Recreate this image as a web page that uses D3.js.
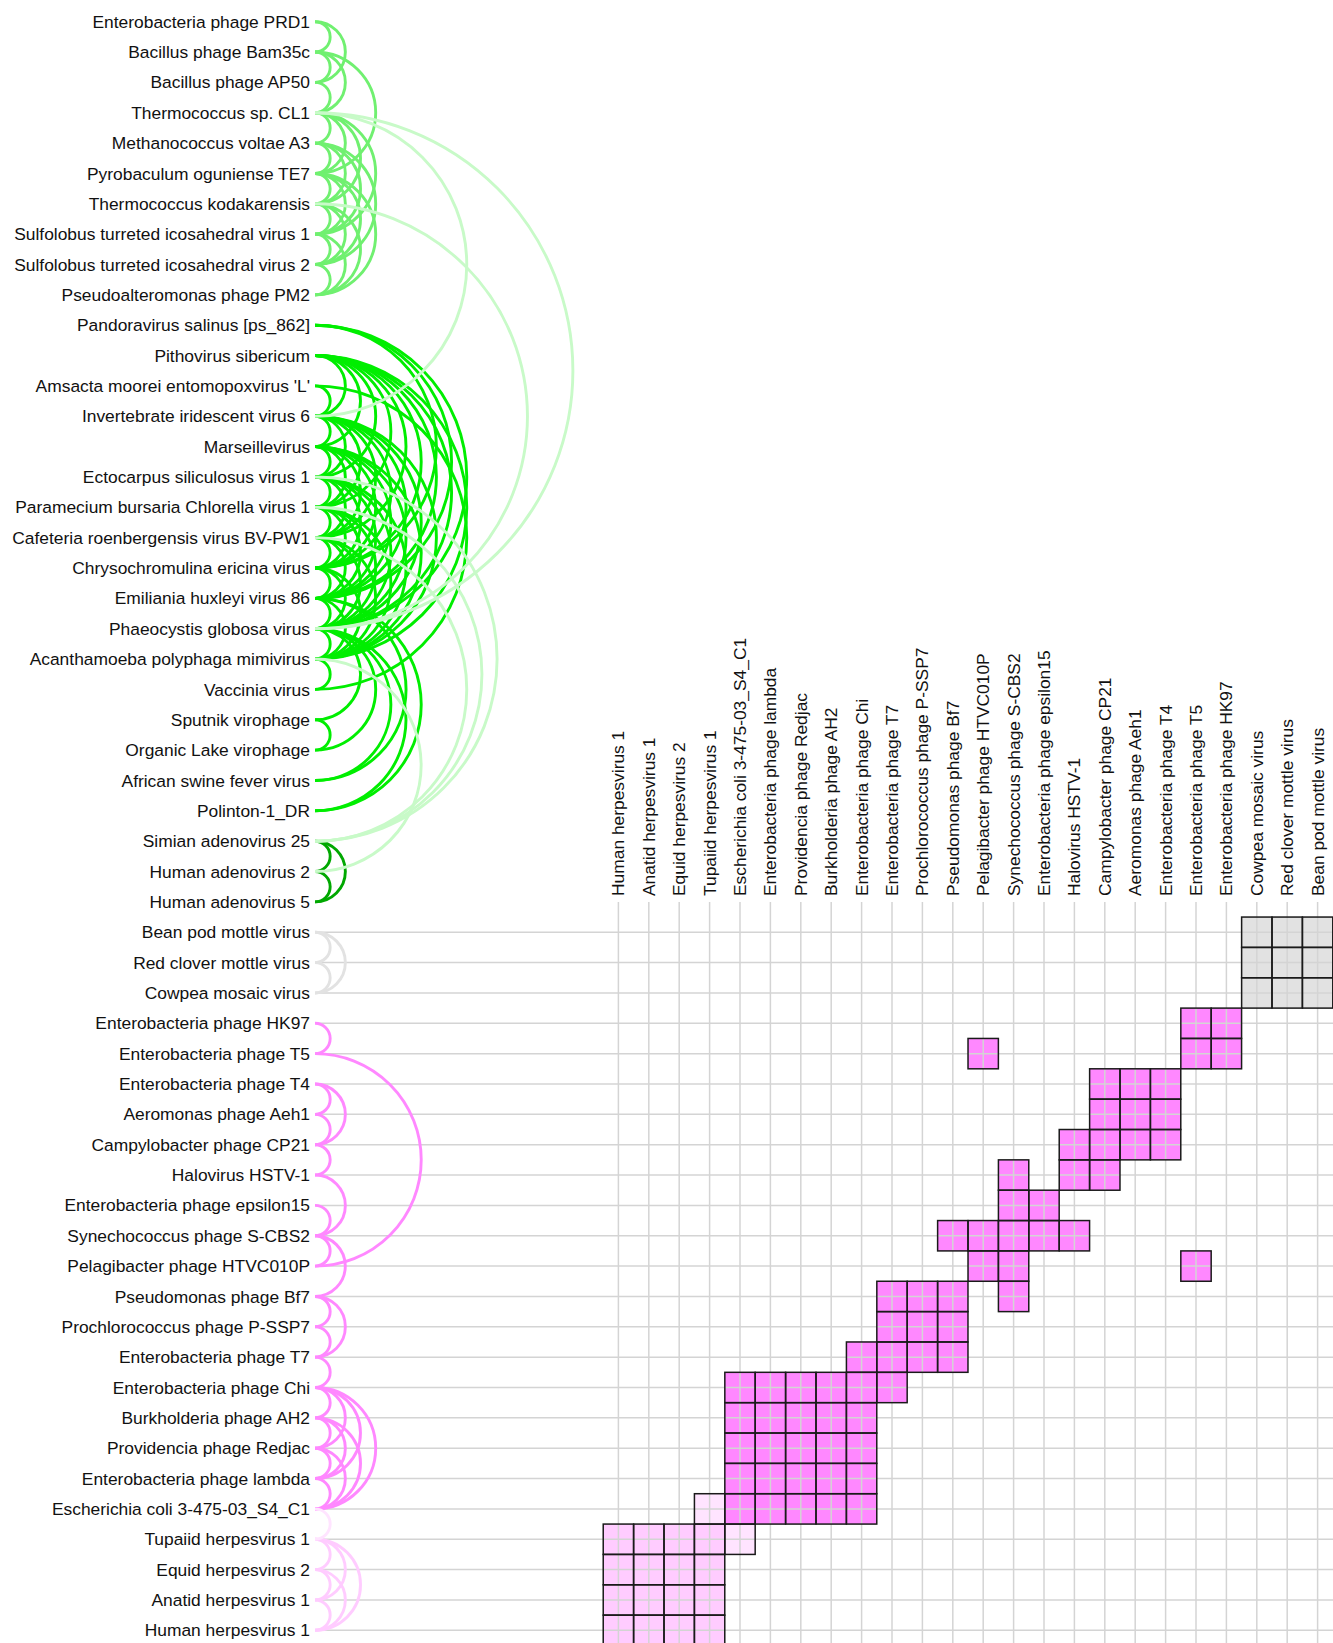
<!DOCTYPE html>
<html>
<head>
<meta charset="utf-8">
<script src="https://cdn.jsdelivr.net/npm/d3@7"></script>
<style>
  body { margin: 0; background: #fff; }
  text { font-family: "Liberation Sans", Arial, sans-serif; font-size: 17.4px; fill: #111; }
</style>
</head>
<body>
<script>
// page size
var width = 1333,
    height = 1643;

// row labels, top to bottom
var rowNames = [
  "Enterobacteria phage PRD1", "Bacillus phage Bam35c", "Bacillus phage AP50", "Thermococcus sp. CL1",
  "Methanococcus voltae A3", "Pyrobaculum oguniense TE7", "Thermococcus kodakarensis",
  "Sulfolobus turreted icosahedral virus 1", "Sulfolobus turreted icosahedral virus 2", "Pseudoalteromonas phage PM2",
  "Pandoravirus salinus [ps_862]", "Pithovirus sibericum", "Amsacta moorei entomopoxvirus 'L'",
  "Invertebrate iridescent virus 6", "Marseillevirus", "Ectocarpus siliculosus virus 1",
  "Paramecium bursaria Chlorella virus 1", "Cafeteria roenbergensis virus BV-PW1", "Chrysochromulina ericina virus",
  "Emiliania huxleyi virus 86", "Phaeocystis globosa virus", "Acanthamoeba polyphaga mimivirus", "Vaccinia virus",
  "Sputnik virophage", "Organic Lake virophage", "African swine fever virus", "Polinton-1_DR",
  "Simian adenovirus 25", "Human adenovirus 2", "Human adenovirus 5",
  "Bean pod mottle virus", "Red clover mottle virus", "Cowpea mosaic virus",
  "Enterobacteria phage HK97", "Enterobacteria phage T5", "Enterobacteria phage T4", "Aeromonas phage Aeh1",
  "Campylobacter phage CP21", "Halovirus HSTV-1", "Enterobacteria phage epsilon15", "Synechococcus phage S-CBS2",
  "Pelagibacter phage HTVC010P", "Pseudomonas phage Bf7", "Prochlorococcus phage P-SSP7", "Enterobacteria phage T7",
  "Enterobacteria phage Chi", "Burkholderia phage AH2", "Providencia phage Redjac", "Enterobacteria phage lambda",
  "Escherichia coli 3-475-03_S4_C1", "Tupaiid herpesvirus 1", "Equid herpesvirus 2", "Anatid herpesvirus 1",
  "Human herpesvirus 1"
];

// clusters (consecutive rows) and their colours
var groupSizes = [10, 17, 3, 3, 17, 4];
var groupColors = ["#70f070", "#00ee00", "#00a800", "#e2e2e2", "#ff88ff", "#ffccff"];

// first matrix row (the matrix covers the last rows)
var matrixStart = 30;

// links, as row index pairs
var linksTop = [[0,1],[0,2],[1,2],[1,3],[1,5],[2,3],[3,4],[3,5],[3,6],[3,7],[4,5],[4,6],[4,7],[4,8],
  [5,6],[5,7],[5,8],[5,9],[6,7],[6,8],[6,9],[7,8],[7,9],[8,9]];
var linksGiant = [[10,18],[10,19],[10,20],
  [11,13],[11,14],[11,15],[11,16],[11,17],[11,18],[11,19],[11,20],[11,21],
  [12,13],[12,22],
  [13,14],[13,15],[13,16],[13,17],[13,18],[13,19],[13,20],[13,21],
  [14,15],[14,16],[14,17],[14,18],[14,19],[14,20],[14,21],
  [15,16],[15,17],[15,18],[15,19],[15,20],[15,21],
  [16,17],[16,18],[16,19],[16,20],[16,21],
  [17,18],[17,19],[17,20],[17,21],
  [18,19],[18,20],[18,21],
  [19,20],[19,21],[19,25],[19,26],
  [20,21],[20,23],[20,24],[20,25],[20,26],
  [21,22],[23,24]];
var linksAdeno = [[27,28],[28,29],[27,29]];
var linksGreenCross = [[3,13],[3,20],[6,20],[15,27],[16,27],[17,27],[21,28]];
var linksComo = [[30,31],[31,32],[30,32]];
var linksPhage = [[33,34],[34,41],[35,36],[35,37],[36,37],[37,38],[38,40],[39,40],[40,41],[40,42],
  [42,43],[42,44],[43,44],[44,45],[45,46],[45,47],[45,48],[45,49],[46,47],[46,48],[46,49],
  [47,48],[47,49],[48,49]];
var linksHerpes = [[50,51],[50,52],[50,53],[51,52],[51,53],[52,53]];
var linksPinkCross = [[49,50]];

var greenCrossColor = "#c8fac8",
    pinkCrossColor = "#ffe4ff";

// group index per row
var groupOf = [];
groupSizes.forEach(function(n, g) { for (var k = 0; k < n; k++) groupOf.push(g); });

// all links with their colour
var links = [];
function addLinks(list, color) {
  list.forEach(function(d) { links.push({ a: d[0], b: d[1], color: color }); });
}
addLinks(linksTop, groupColors[0]);
addLinks(linksGiant, groupColors[1]);
addLinks(linksAdeno, groupColors[2]);
addLinks(linksComo, groupColors[3]);
addLinks(linksPhage, groupColors[4]);
addLinks(linksHerpes, groupColors[5]);
addLinks(linksGreenCross, greenCrossColor);
addLinks(linksPinkCross, pinkCrossColor);

// columns of the matrix: bottom rows in reverse order
var matrixRows = rowNames.slice(matrixStart);
var colNames = matrixRows.slice().reverse();

// scales
var y = d3.scalePoint().domain(rowNames).range([21.7, 1630.3]);
var x = d3.scalePoint().domain(colNames).range([618.4, 1317.6]);
var x0 = 315; // arc base
var cell = y.step();

var svg = d3.select("body").append("svg")
    .attr("width", width)
    .attr("height", height);

// matrix cells: diagonal + every link inside the matrix rows
var linkColor = {};
links.forEach(function(l) {
  linkColor[l.a + "-" + l.b] = l.color;
  linkColor[l.b + "-" + l.a] = l.color;
});
var cells = [];
for (var i = matrixStart; i < rowNames.length; i++) {
  for (var j = matrixStart; j < rowNames.length; j++) {
    var c = i === j ? groupColors[groupOf[i]] : linkColor[i + "-" + j];
    if (c) cells.push({ row: rowNames[i], col: rowNames[j], color: c });
  }
}

svg.append("g").selectAll("rect")
  .data(cells)
  .enter().append("rect")
    .attr("x", function(d) { return x(d.col) - cell / 2; })
    .attr("y", function(d) { return y(d.row) - cell / 2; })
    .attr("width", cell)
    .attr("height", cell)
    .attr("fill", function(d) { return d.color; });

// grid lines
var grid = svg.append("g").attr("stroke", "#d4d4d4").attr("stroke-width", 1.5);
grid.selectAll(".h")
  .data(matrixRows)
  .enter().append("line")
    .attr("x1", x0).attr("x2", width)
    .attr("y1", function(d) { return y(d); })
    .attr("y2", function(d) { return y(d); });
grid.selectAll(".v")
  .data(colNames)
  .enter().append("line")
    .attr("y1", 902).attr("y2", height)
    .attr("x1", function(d) { return x(d); })
    .attr("x2", function(d) { return x(d); });

// cell outlines on top of the grid
svg.append("g").selectAll("rect")
  .data(cells)
  .enter().append("rect")
    .attr("x", function(d) { return x(d.col) - cell / 2; })
    .attr("y", function(d) { return y(d.row) - cell / 2; })
    .attr("width", cell)
    .attr("height", cell)
    .attr("fill", "none")
    .attr("stroke", "#1a1a1a")
    .attr("stroke-width", 1.5);

// arcs: semicircles to the right of the labels
function arcPath(d) {
  var y1 = y(rowNames[d.a]), y2 = y(rowNames[d.b]);
  var r = Math.abs(y2 - y1) / 2;
  return "M" + x0 + "," + y1 + "A" + r + "," + r + " 0 0,1 " + x0 + "," + y2;
}
svg.append("g").selectAll("path")
  .data(links)
  .enter().append("path")
    .attr("d", arcPath)
    .attr("fill", "none")
    .attr("stroke", function(d) { return d.color; })
    .attr("stroke-width", 2.9);

// row labels
svg.append("g").selectAll("text")
  .data(rowNames)
  .enter().append("text")
    .attr("x", 310)
    .attr("y", function(d) { return y(d); })
    .attr("dy", "0.35em")
    .attr("text-anchor", "end")
    .text(function(d) { return d; });

// column labels
svg.append("g").selectAll("text")
  .data(colNames)
  .enter().append("text")
    .attr("transform", function(d) { return "translate(" + x(d) + ",896) rotate(-90)"; })
    .attr("dy", "0.35em")
    .attr("text-anchor", "start")
    .text(function(d) { return d; });
</script>
</body>
</html>
